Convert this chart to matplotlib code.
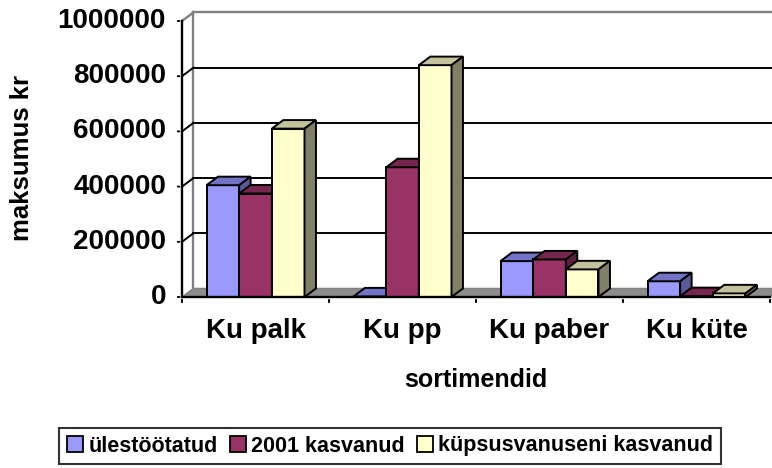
import matplotlib.pyplot as plt
from matplotlib.patches import Polygon, Patch

categories = ['Ku palk', 'Ku pp', 'Ku paber', 'Ku küte']
series_names = ['ülestöötatud', '2001 kasvanud', 'küpsusvanuseni kasvanud']
ulestootatud = [405000, 2000, 130000, 57000]
kasvanud_2001 = [375000, 470000, 136000, 3000]
kupsusvanuseni = [610000, 840000, 100000, 13000]
y_ticks = [0, 200000, 400000, 600000, 800000, 1000000]

series = [ulestootatud, kasvanud_2001, kupsusvanuseni]
# front, top, side shades (Excel-style 3D columns)
shades = [('#9999FF', '#7272C6', '#5A5A99'),
          ('#993366', '#74264D', '#5C1F3D'),
          ('#FFFFCC', '#C2C29B', '#808066')]

plt.rcParams['font.family'] = ['Liberation Sans', 'DejaVu Sans']
plt.rcParams['font.weight'] = 'bold'

fig = plt.figure(figsize=(7.72, 4.68), dpi=100)
ax = fig.add_axes([182/772, 171/468, 588/772, 276/468])
ax.set_xlim(0, 4)
ax.set_ylim(0, 1000000)
ax.axis('off')

dx, dy = 0.078, 31000
w = 1/4.5
lw = 1.4
top = y_ticks[-1]

# floor
ax.add_patch(Polygon([(0, 0), (4, 0), (4+dx, dy), (dx, dy)], closed=True,
                     facecolor='#8c8c8c', edgecolor='#808080', lw=1, clip_on=False, zorder=1))
# back wall and left wall
ax.plot([dx, dx], [dy, top+dy], color='#808080', lw=lw+0.3, clip_on=False, zorder=1)
ax.plot([dx, 4+dx], [top+dy, top+dy], color='#808080', lw=lw+0.3, clip_on=False, zorder=1)
ax.plot([0, dx], [top, top+dy], color='#808080', lw=lw+0.3, clip_on=False, zorder=1)
for t in y_ticks[1:-1]:
    ax.plot([dx, 4+dx], [t+dy, t+dy], color='black', lw=lw, clip_on=False, zorder=1)
    ax.plot([0, dx], [t, t+dy], color='black', lw=lw, clip_on=False, zorder=1)

# bars
z = 2
for i in range(len(categories)):
    for k, vals in enumerate(series):
        v = vals[i]
        x = i + 0.75*w + k*w
        front, topc, side = shades[k]
        ax.bar(x, v, width=w, align='edge', color=front, edgecolor='black',
               lw=lw, zorder=z, clip_on=False)
        ax.add_patch(Polygon([(x, v), (x+w, v), (x+w+dx, v+dy), (x+dx, v+dy)], closed=True,
                             facecolor=topc, edgecolor='black', lw=lw, zorder=z, clip_on=False))
        ax.add_patch(Polygon([(x+w, 0), (x+w+dx, dy), (x+w+dx, v+dy), (x+w, v)], closed=True,
                             facecolor=side, edgecolor='black', lw=lw, zorder=z, clip_on=False))
        z += 1

# front axes
ax.plot([0, 0], [0, top], color='black', lw=lw+0.3, clip_on=False, zorder=50)
ax.plot([0, 4], [0, 0], color='black', lw=lw+0.3, clip_on=False, zorder=50)
for t in y_ticks:
    ax.annotate('', xy=(0, t), xytext=(-7, 0), textcoords='offset pixels',
                arrowprops=dict(arrowstyle='-', lw=lw, color='black'))
    ax.annotate(str(t), xy=(0, t), xytext=(-16, 0), textcoords='offset pixels',
                ha='right', va='center', fontsize=20, fontweight='bold')
for i in range(len(categories) + 1):
    ax.annotate('', xy=(i, 0), xytext=(0, -8), textcoords='offset pixels',
                arrowprops=dict(arrowstyle='-', lw=lw, color='black'))
for i, c in enumerate(categories):
    ax.annotate(c, xy=(i + 0.5, 0), xytext=(0, -34), textcoords='offset pixels',
                ha='center', va='center', fontsize=20, fontweight='bold')

fig.text(476/772, 1 - 380/468, 'sortimendid', ha='center', va='center',
         fontsize=18, fontweight='bold')
fig.text(22/772, 1 - 158/468, 'maksumus kr', ha='center', va='center',
         rotation=90, fontsize=18.5, fontweight='bold')

handles = [Patch(facecolor=s[0], edgecolor='black', lw=1.3) for s in shades]
leg = fig.legend(handles, series_names, loc='center', bbox_to_anchor=(390/772, 1 - 446/468),
                 ncol=3, frameon=True, fancybox=False, edgecolor='black',
                 handlelength=0.75, handleheight=0.75, handletextpad=0.25,
                 columnspacing=0.55, borderpad=0.35, prop={'weight': 'bold', 'size': 15.5})
leg.get_frame().set_linewidth(1.5)

fig.savefig('out.png', dpi=100)
